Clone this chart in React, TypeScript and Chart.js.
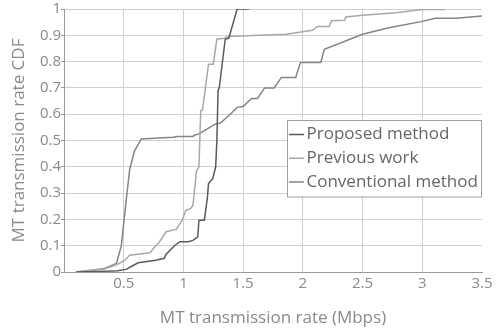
import { useEffect, useRef } from "react";
import { Chart, registerables } from "chart.js";

Chart.register(...registerables);

const FONT = "'Open Sans', sans-serif";

// Proposed method (darkest line)
const proposedRate = [0.1, 0.3, 0.45, 0.52, 0.56, 0.62, 0.77, 0.84, 0.855, 0.925, 0.97, 1.04, 1.08, 1.12, 1.13, 1.175, 1.2, 1.21, 1.245, 1.27, 1.28, 1.29, 1.3, 1.35, 1.38, 1.45, 1.55];
const proposedCdf = [0, 0.002, 0.005, 0.01, 0.02, 0.035, 0.045, 0.052, 0.068, 0.1, 0.115, 0.115, 0.12, 0.134, 0.197, 0.197, 0.28, 0.336, 0.355, 0.4, 0.5, 0.69, 0.7, 0.885, 0.889, 1.0, 1.0];

// Previous work (lightest line)
const previousRate = [0.1, 0.33, 0.44, 0.51, 0.55, 0.72, 0.76, 0.8, 0.855, 0.94, 0.99, 1.02, 1.06, 1.08, 1.11, 1.13, 1.145, 1.16, 1.21, 1.25, 1.28, 1.34, 1.38, 1.63, 1.86, 2.08, 2.12, 2.22, 2.24, 2.35, 2.36, 2.5, 2.78, 3.0, 3.19];
const previousCdf = [0, 0.01, 0.027, 0.045, 0.064, 0.073, 0.096, 0.115, 0.153, 0.162, 0.197, 0.235, 0.241, 0.254, 0.386, 0.399, 0.614, 0.616, 0.79, 0.79, 0.885, 0.889, 0.895, 0.9, 0.904, 0.919, 0.933, 0.933, 0.955, 0.957, 0.97, 0.976, 0.986, 0.998, 0.998];

// Conventional method (medium line)
const conventionalRate = [0.1, 0.33, 0.44, 0.48, 0.5, 0.52, 0.55, 0.59, 0.647, 0.91, 0.95, 1.08, 1.09, 1.13, 1.2, 1.27, 1.31, 1.38, 1.45, 1.5, 1.57, 1.62, 1.68, 1.76, 1.82, 1.94, 1.98, 2.15, 2.18, 2.5, 2.72, 2.99, 3.11, 3.28, 3.5];
const conventionalCdf = [0, 0.012, 0.033, 0.1, 0.185, 0.27, 0.39, 0.46, 0.506, 0.512, 0.515, 0.515, 0.52, 0.525, 0.544, 0.563, 0.566, 0.595, 0.626, 0.629, 0.66, 0.66, 0.7, 0.7, 0.74, 0.74, 0.797, 0.797, 0.847, 0.904, 0.929, 0.952, 0.965, 0.965, 0.973];

const seriesLabels = ["Proposed method", "Previous work", "Conventional method"];
const seriesColors = ["#5a5a5a", "#a9a9a9", "#848484"];

const xTitle = "MT transmission rate (Mbps)";
const yTitle = "MT transmission rate CDF";

function toPoints(xs: number[], ys: number[]) {
  return xs.map((x, i) => ({ x, y: ys[i] }));
}

function fmt(v: any) {
  return String(Math.round(Number(v) * 10) / 10);
}

const boxLegend = {
  id: "boxLegend",
  afterDatasetsDraw(chart: any) {
    const { ctx, chartArea } = chart;
    const sets = chart.data.datasets;
    ctx.save();
    ctx.font = `17px ${FONT}`;
    const maxW = Math.max(...sets.map((d: any) => ctx.measureText(d.label).width));
    const right = chartArea.right;
    const left = Math.round(right - (maxW + 19.5 + 4));
    const top = Math.round(chartArea.top + 111);
    const rowH = 23.75;
    const h = 76.5;
    ctx.fillStyle = "#ffffff";
    ctx.fillRect(left, top, right - left, h);
    ctx.strokeStyle = "#a0a0a0";
    ctx.lineWidth = 1;
    ctx.strokeRect(left + 0.5, top + 0.5, right - left - 1, h);
    sets.forEach((d: any, i: number) => {
      const cy = top + 14.5 + i * rowH;
      ctx.strokeStyle = d.borderColor;
      ctx.lineWidth = 1.5;
      ctx.beginPath();
      ctx.moveTo(left + 2, cy);
      ctx.lineTo(left + 17, cy);
      ctx.stroke();
      ctx.fillStyle = "#666666";
      ctx.textBaseline = "middle";
      ctx.textAlign = "left";
      ctx.fillText(d.label, left + 19.5, cy);
    });
    ctx.restore();
  },
};

export default function App() {
  const ref = useRef<HTMLCanvasElement>(null);
  useEffect(() => {
    if (!ref.current) return;
    const series = [
      toPoints(proposedRate, proposedCdf),
      toPoints(previousRate, previousCdf),
      toPoints(conventionalRate, conventionalCdf),
    ];
    const chart = new Chart(ref.current, {
      type: "line",
      data: {
        datasets: series.map((data, i) => ({
          label: seriesLabels[i],
          data,
          borderColor: seriesColors[i],
          backgroundColor: seriesColors[i],
          borderWidth: 1.5,
          pointRadius: 0,
          tension: 0,
          fill: false,
        })),
      },
      options: {
        animation: false,
        responsive: false,
        devicePixelRatio: 1,
        layout: { padding: { top: 8, right: 16, left: 0, bottom: 0 } },
        plugins: { legend: { display: false }, tooltip: { enabled: false } },
        scales: {
          x: {
            type: "linear",
            min: 0,
            max: 3.5,
            afterFit: (s: any) => {
              s.height = 59;
            },
            ticks: {
              stepSize: 0.5,
              padding: 3,
              color: "#8a8a8a",
              font: { family: FONT, size: 15 },
              maxRotation: 0,
              callback: (v: any) => (Number(v) === 0 ? "" : fmt(v)),
            },
            grid: {
              drawTicks: false,
              color: (c: any) => (c.tick && (c.tick.value === 3.5 || c.tick.value === 0) ? "rgba(0,0,0,0)" : "#d0d0d0"),
              lineWidth: 1,
            },
            border: { color: "#9a9a9a", width: 1 },
            title: {
              display: true,
              text: xTitle,
              color: "#8a8a8a",
              font: { family: FONT, size: 17 },
              padding: { top: 0, bottom: 3 },
            },
          },
          y: {
            type: "linear",
            min: 0,
            max: 1,
            afterFit: (s: any) => {
              s.width = 64;
            },
            ticks: {
              stepSize: 0.1,
              padding: 0,
              color: "#8a8a8a",
              font: { family: FONT, size: 15 },
              callback: (v: any) => fmt(v),
            },
            grid: {
              color: (c: any) => (c.tick && c.tick.value === 0 ? "rgba(0,0,0,0)" : "#d0d0d0"),
              tickColor: "#9a9a9a",
              tickLength: 3,
              lineWidth: 1,
            },
            border: { color: "#9a9a9a", width: 1 },
            title: {
              display: true,
              text: yTitle,
              color: "#8a8a8a",
              font: { family: FONT, size: 17 },
              padding: { top: 9, bottom: 0 },
            },
          },
        },
      },
      plugins: [boxLegend],
    });
    return () => chart.destroy();
  }, []);
  return (
    <div style={{ position: "absolute", left: 0, top: 0, width: 498, height: 331 }}>
      <canvas ref={ref} width={498} height={331} style={{ display: "block" }} />
    </div>
  );
}
